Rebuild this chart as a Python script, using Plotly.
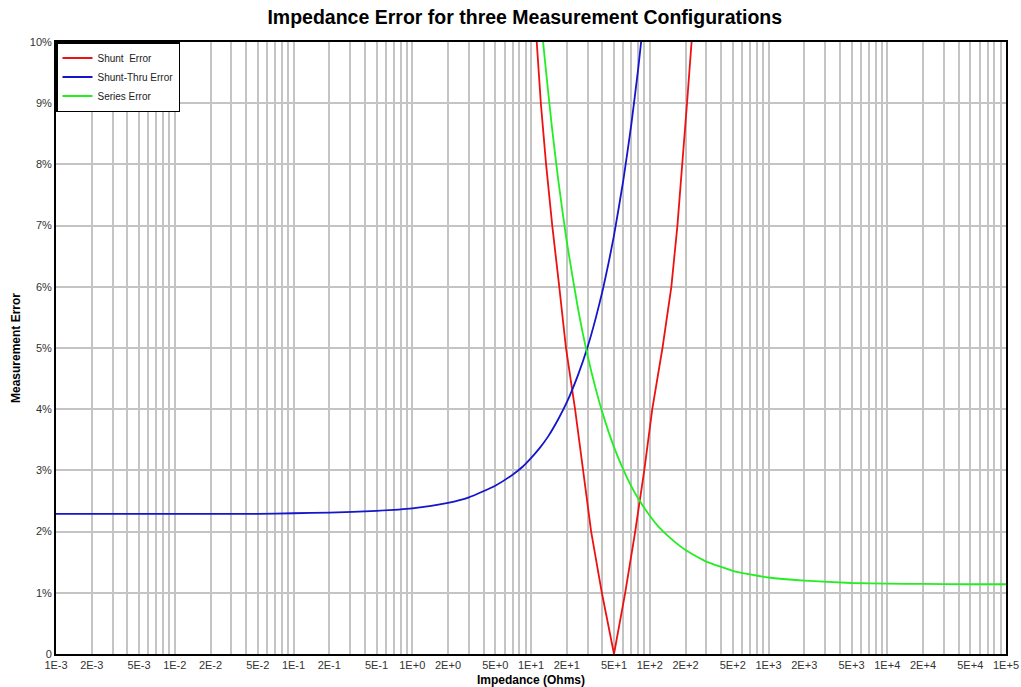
import plotly.graph_objects as go

# ---- data ----
shunt_z = [10, 11.2, 12.1, 13.4, 15.1, 17.3, 19.7, 23.5, 27.6, 32.1, 39.5, 50,
           62.1, 75.4, 89.9, 105, 128, 152, 171, 189, 206, 225, 250]
shunt_err = [11.4, 10.0, 9.0, 8.0, 7.0, 6.0, 5.0, 4.0, 3.0, 2.0, 1.0, 0.0,
             1.0, 2.0, 3.0, 4.0, 5.0, 6.0, 7.0, 8.0, 9.0, 10.0, 11.3]

thru_z = [0.001, 0.002, 0.005, 0.01, 0.02, 0.05, 0.1, 0.2, 0.5, 1, 2, 3, 5, 7,
          8.5, 10, 12, 14, 17, 20, 25, 30, 35, 40, 45, 50, 60, 70, 80, 90]
thru_err = [2.29, 2.29, 2.29, 2.29, 2.29, 2.29, 2.30, 2.31, 2.34, 2.38, 2.47, 2.56,
            2.75, 2.93, 3.06, 3.20, 3.38, 3.56, 3.84, 4.11, 4.57, 5.02, 5.48, 5.93,
            6.39, 6.84, 7.75, 8.66, 9.57, 10.48]

series_z = [12, 13, 15, 17, 20, 25, 30, 35, 40, 50, 60, 70, 80, 100, 120, 150, 200,
            300, 500, 700, 1000, 2000, 5000, 10000, 20000, 50000, 100000]
series_err = [10.47, 9.76, 8.61, 7.73, 6.74, 5.62, 4.87, 4.34, 3.94, 3.38, 3.01, 2.74,
              2.54, 2.26, 2.07, 1.89, 1.70, 1.51, 1.36, 1.30, 1.25, 1.20, 1.16, 1.15,
              1.145, 1.14, 1.14]

names = ["Shunt  Error", "Shunt-Thru Error", "Series Error"]
colors = ["#ee1111", "#1515cc", "#22ee22"]

# x ticks: grid at every 1..9 per decade, labels at 1, 2, 5
decades = list(range(-3, 5))
x_tickvals, x_ticktext = [], []
for d in decades:
    for m in range(1, 10):
        x_tickvals.append(m * 10 ** d)
        x_ticktext.append(f"{m}E{d:+d}" if m in (1, 2, 5) else "")
x_tickvals.append(1e5)
x_ticktext.append("1E+5")

y_tickvals = list(range(0, 11))
y_ticktext = ["0"] + [f"{v}%" for v in range(1, 11)]

FONT = "Liberation Sans, Arial, sans-serif"

fig = go.Figure()
for zs, es, nm, col, shp in [(shunt_z, shunt_err, names[0], colors[0], "linear"),
                             (thru_z, thru_err, names[1], colors[1], "spline"),
                             (series_z, series_err, names[2], colors[2], "spline")]:
    fig.add_trace(go.Scatter(x=zs, y=es, mode="lines", name=nm,
                             line=dict(color=col, width=1.8, shape=shp, smoothing=0.5)))

fig.update_layout(
    width=1021, height=687,
    margin=dict(l=56, r=15, t=42, b=33, autoexpand=False),
    paper_bgcolor="white", plot_bgcolor="white",
    font=dict(family=FONT, size=11, color="#333333"),
    title=dict(text="<b>Impedance Error for three Measurement Configurations</b>",
               x=0.514, xanchor="center", y=0.975, yanchor="middle",
               font=dict(family=FONT, size=19.5, color="black"), automargin=False),
    legend=dict(x=0, y=1, xanchor="left", yanchor="top",
                bgcolor="white", bordercolor="black", borderwidth=1.5,
                font=dict(family=FONT, size=10, color="#222222"),
                tracegroupgap=0, itemwidth=30),
    showlegend=True,
)
fig.update_xaxes(
    type="log", range=[-3, 5], automargin=False,
    tickmode="array", tickvals=x_tickvals, ticktext=x_ticktext,
    showgrid=True, gridcolor="#c4c4c4", gridwidth=1.5,
    showline=True, linecolor="black", linewidth=2, mirror=True,
    ticks="", zeroline=False,
    tickfont=dict(size=11, color="#333333"),
    title=dict(text="<b>Impedance (Ohms)</b>", standoff=10,
               font=dict(family=FONT, size=12, color="black")),
)
fig.update_yaxes(
    range=[0, 10], automargin=False,
    tickmode="array", tickvals=y_tickvals, ticktext=y_ticktext,
    showgrid=True, gridcolor="#c4c4c4", gridwidth=1.5,
    showline=True, linecolor="black", linewidth=2, mirror=True,
    ticks="", zeroline=False,
    tickfont=dict(size=11, color="#333333"),
    title=dict(text="<b>Measurement Error</b>", standoff=7,
               font=dict(family=FONT, size=12, color="black")),
)

# remove the default 8px page margin so the figure fills the window exactly
fig.write_html("out.html", config={"displayModeBar": False},
               post_script="document.body.style.margin='0px';")
